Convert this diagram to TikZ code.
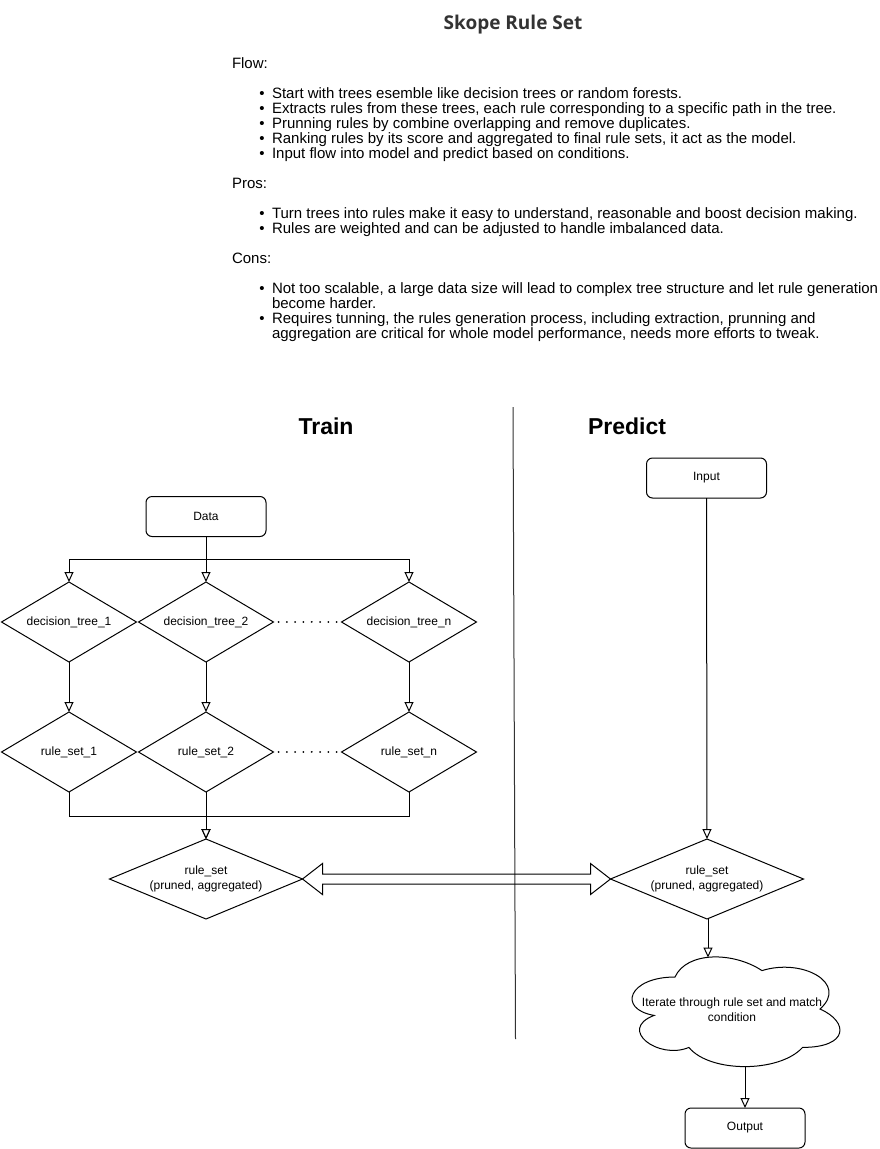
\documentclass[tikz,border=0pt]{standalone}
\usepackage{fontspec}
\setmainfont{Liberation Sans}
\newfontfamily\titlefont{Open Sans}
\usetikzlibrary{shapes.geometric,arrows.meta,calc}
\definecolor{titlegray}{HTML}{333333}
\begin{document}
\begin{tikzpicture}[x=1pt,y=-1pt,
  every node/.style={inner sep=0pt, outer sep=0pt},
  bodytext/.style={anchor=base west, font=\fontsize{15}{15}\selectfont},
  bul/.style={anchor=base, font=\fontsize{15}{15}\selectfont},
  dtext/.style={font=\fontsize{12}{14.5}\selectfont, align=center},
  rbox/.style={draw, line width=1pt, rounded corners=6pt, minimum width=120pt, minimum height=40pt, dtext},
  dia/.style={draw, line width=1pt, diamond, shape aspect=1.68, minimum width=135pt, minimum height=80pt, dtext},
  bigdia/.style={draw, line width=1pt, diamond, shape aspect=2.41, minimum width=193pt, minimum height=80pt, dtext},
  arr/.style={line width=1pt, -{Triangle[length=10pt,width=9pt,fill=white]}},
  dots/.style={line width=2pt, line cap=round, dash pattern=on 0.01pt off 8.3pt},
  heading/.style={font=\fontsize{23}{26}\selectfont\bfseries}
]
\useasboundingbox (0,0) rectangle (880,1149);
\fill[white] (0,0) rectangle (880,1149);

% ---------- title and text ----------
\node[font=\titlefont\bfseries\fontsize{19}{21}\selectfont, text=titlegray] (title) at (513,25) {Skope Rule Set};

\node[bodytext] (flow) at (232,68) {Flow:};
\node[bul] (b1) at (262,98) {\textbullet};
\node[bodytext] (f1) at (272,98) {Start with trees esemble like decision trees or random forests.};
\node[bul] (b2) at (262,113) {\textbullet};
\node[bodytext] (f2) at (272,113) {Extracts rules from these trees, each rule corresponding to a specific path in the tree.};
\node[bul] (b3) at (262,128) {\textbullet};
\node[bodytext] (f3) at (272,128) {Prunning rules by combine overlapping and remove duplicates.};
\node[bul] (b4) at (262,143) {\textbullet};
\node[bodytext] (f4) at (272,143) {Ranking rules by its score and aggregated to final rule sets, it act as the model.};
\node[bul] (b5) at (262,158) {\textbullet};
\node[bodytext] (f5) at (272,158) {Input flow into model and predict based on conditions.};

\node[bodytext] (pros) at (232,188) {Pros:};
\node[bul] (b6) at (262,218) {\textbullet};
\node[bodytext] (p1) at (272,218) {Turn trees into rules make it easy to understand, reasonable and boost decision making.};
\node[bul] (b7) at (262,233) {\textbullet};
\node[bodytext] (p2) at (272,233) {Rules are weighted and can be adjusted to handle imbalanced data.};

\node[bodytext] (cons) at (232,263) {Cons:};
\node[bul] (b8) at (262,293) {\textbullet};
\node[bodytext] (c1) at (272,293) {Not too scalable, a large data size will lead to complex tree structure and let rule generation};
\node[bodytext] (c1b) at (272,308) {become harder.};
\node[bul] (b9) at (262,323) {\textbullet};
\node[bodytext] (c2) at (272,323) {Requires tunning, the rules generation process, including extraction, prunning and};
\node[bodytext] (c2b) at (272,338) {aggregation are critical for whole model performance, needs more efforts to tweak.};

% ---------- headings and divider ----------
\node[heading] (train) at (326,426) {Train};
\node[heading] (predict) at (627,426) {Predict};
\coordinate (divtop) at (513,407);
\coordinate (divbot) at (515.5,1039);
\draw[line width=1pt, black!80] (divtop) -- (divbot);

% ---------- train side ----------
\node[rbox] (data) at (206,516.5) {Data};
\node[dia] (d1) at (69,622) {decision\_tree\_1};
\node[dia] (d2) at (206,622) {decision\_tree\_2};
\node[dia] (dn) at (409,622) {decision\_tree\_n};
\node[dia] (r1) at (69,752) {rule\_set\_1};
\node[dia] (r2) at (206,752) {rule\_set\_2};
\node[dia] (rn) at (409,752) {rule\_set\_n};
\node[bigdia] (big) at (206,879) {rule\_set\\(pruned, aggregated)};

\coordinate (bus) at (206,559);
\coordinate (bus2) at (206,816);
\draw[arr] (data.south) -- (bus) -| (d1.north);
\draw[arr] (data.south) -- (d2.north);
\draw[arr] (data.south) -- (bus) -| (dn.north);
\draw[arr] (d1.south) -- (r1.north);
\draw[arr] (d2.south) -- (r2.north);
\draw[arr] (dn.south) -- (rn.north);
\draw[arr] (r1.south) |- (bus2) -- (big.north);
\draw[arr] (r2.south) -- (big.north);
\draw[arr] (rn.south) |- (bus2) -- (big.north);

\draw[dots] ([xshift=5pt]d2.east) -- ([xshift=-4pt]dn.west);
\draw[dots] ([xshift=5pt]r2.east) -- ([xshift=-4pt]rn.west);

% ---------- predict side ----------
\node[rbox] (input) at (706.5,478) {Input};
\node[bigdia] (rd) at (707,879) {rule\_set\\(pruned, aggregated)};
\draw[arr] (input.south) -- (rd.north);

% double (flex) arrow between the two rule sets
\draw[line width=1pt, line join=miter]
  (big.east) -- ([shift={(20,-15.5)}]big.east) -- ([shift={(20,-5)}]big.east)
  -- ([shift={(-20,-5)}]rd.west) -- ([shift={(-20,-15.5)}]rd.west) -- (rd.west)
  -- ([shift={(-20,15.5)}]rd.west) -- ([shift={(-20,5)}]rd.west)
  -- ([shift={(20,5)}]big.east) -- ([shift={(20,15.5)}]big.east) -- cycle;

% cloud
\draw[line width=1pt]
  (675,977) .. controls (628.6,977) and (617,1009) .. (654.1,1015.4)
  .. controls (617,1029.5) and (658.8,1060.2) .. (688.9,1047.4)
  .. controls (709.8,1073) and (779.4,1073) .. (802.6,1047.4)
  .. controls (849,1047.4) and (849,1021.8) .. (820,1009)
  .. controls (849,983.4) and (802.6,957.8) .. (762,970.6)
  .. controls (733,951.4) and (686.6,951.4) .. (675,977) -- cycle;
\node[dtext, font=\fontsize{12}{15}\selectfont] (cloud) at (732,1010) {Iterate through rule set and match\\condition};
\coordinate (cloudtop) at (708,957.5);
\coordinate (cloudbot) at (745,1066);
\draw[arr] (rd.south -| cloudtop) -- (cloudtop);

\node[rbox] (output) at (745,1128) {Output};
\draw[arr] (cloudbot) -- (output.north);
\end{tikzpicture}
\end{document}
